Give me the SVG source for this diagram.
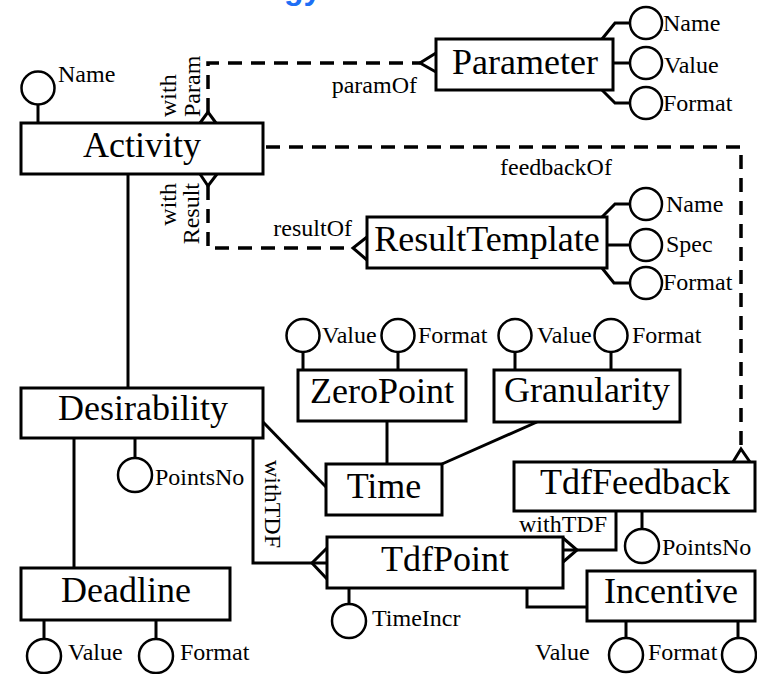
<svg xmlns="http://www.w3.org/2000/svg" width="757" height="674" viewBox="0 0 757 674">
<style>
.box{fill:#fff;stroke:#000;stroke-width:3}
.ln{fill:none;stroke:#000;stroke-width:3}
.dash{fill:none;stroke:#000;stroke-width:3.5;stroke-dasharray:14 9}
.at{fill:#fff;stroke:#000;stroke-width:2.5}
.en{font-family:"Liberation Serif","Times New Roman",serif;font-size:36px;text-anchor:middle;fill:#000}
.lb{font-family:"Liberation Serif","Times New Roman",serif;font-size:24px;fill:#000}
.end{text-anchor:end}
</style>
<rect width="757" height="674" fill="#fff"/>
<text x="284" y="-1" style="font-family:'Liberation Sans',Arial,sans-serif;font-size:32px;font-weight:bold;fill:#1e6ff5">gy</text>

<g id="connectors">
  <path class="ln" d="M128,174 V388"/>
  <path class="ln" d="M74,438 V568"/>
  <path class="ln" d="M263,422 L327,488"/>
  <path class="ln" d="M387,421 V464"/>
  <path class="ln" d="M537,422 L442,464"/>
  <path class="ln" d="M253,438 V563 H327"/>
  <path class="ln" d="M327,548 L312,563 L327,579"/>
  <path class="ln" d="M616,511 V550 H563"/>
  <path class="ln" d="M563,538 L577,550 L563,562"/>
  <path class="ln" d="M527,588 V607 H587"/>
  <path class="dash" d="M208,112 V63 H420"/>
  <path class="ln" d="M200,123 L208,112 L216,123"/>
  <path class="ln" d="M436,53 L420,63 L436,72"/>
  <path class="dash" d="M208,186 V248 H353"/>
  <path class="ln" d="M200,174 L208,186 L217,174"/>
  <path class="ln" d="M367,237 L353,248 L367,260"/>
  <path class="dash" d="M266,147 H741 V450"/>
  <path class="ln" d="M733,462 L741,449 L750,462"/>
  <text class="lb end" x="417" y="93">paramOf</text>
  <text class="lb end" x="352" y="236">resultOf</text>
  <text class="lb" x="500" y="175">feedbackOf</text>
  <text class="lb end" x="607" y="532">withTDF</text>
  <text class="lb" transform="translate(176,117) rotate(-90)">with</text>
  <text class="lb" transform="translate(200,117) rotate(-90)">Param</text>
  <text class="lb end" transform="translate(176,183) rotate(-90)">with</text>
  <text class="lb end" transform="translate(199,183) rotate(-90)">Result</text>
  <text class="lb" transform="translate(265,460) rotate(90)">withTDF</text>
</g>

<g id="activity">
  <path class="ln" d="M38,105 V123"/>
  <circle class="at" cx="38" cy="88" r="16.5"/>
  <text class="lb" x="58" y="82">Name</text>
  <rect class="box" x="21" y="123" width="242" height="51"/>
  <text class="en" x="142" y="157">Activity</text>
</g>

<g id="parameter">
  <path class="ln" d="M602,39 L615,23 L630,23 M613,63 H630 M602,90 L615,103 L630,103"/>
  <circle class="at" cx="646" cy="23" r="16"/>
  <circle class="at" cx="646" cy="63" r="16"/>
  <circle class="at" cx="646" cy="103" r="16"/>
  <text class="lb" x="663" y="31">Name</text>
  <text class="lb" x="664" y="73">Value</text>
  <text class="lb" x="663" y="111">Format</text>
  <rect class="box" x="436" y="39" width="177" height="51"/>
  <text class="en" x="525" y="74">Parameter</text>
</g>

<g id="resulttemplate">
  <path class="ln" d="M602,217 L615,204 L630,204 M607,245 H630 M602,268 L614,283 L630,283"/>
  <circle class="at" cx="646" cy="204" r="16"/>
  <circle class="at" cx="646" cy="245" r="16"/>
  <circle class="at" cx="646" cy="283" r="16"/>
  <text class="lb" x="666" y="212">Name</text>
  <text class="lb" x="666" y="252">Spec</text>
  <text class="lb" x="663" y="290">Format</text>
  <rect class="box" x="367" y="217" width="240" height="51"/>
  <text class="en" x="487" y="251">ResultTemplate</text>
</g>

<g id="desirability">
  <path class="ln" d="M135,438 V458"/>
  <circle class="at" cx="135" cy="475" r="17"/>
  <text class="lb" x="155" y="485">PointsNo</text>
  <rect class="box" x="21" y="388" width="242" height="50"/>
  <text class="en" x="143" y="420">Desirability</text>
</g>

<g id="deadline">
  <path class="ln" d="M44,620 V639 M156,620 V639"/>
  <circle class="at" cx="44" cy="656" r="17"/>
  <circle class="at" cx="156" cy="656" r="17"/>
  <text class="lb" x="68" y="660">Value</text>
  <text class="lb" x="180" y="660">Format</text>
  <rect class="box" x="21" y="568" width="209" height="52"/>
  <text class="en" x="126" y="602">Deadline</text>
</g>

<g id="zeropoint">
  <path class="ln" d="M303,370 V352 M398,370 V352"/>
  <circle class="at" cx="303" cy="335.5" r="16.5"/>
  <circle class="at" cx="398" cy="335.5" r="16.5"/>
  <text class="lb" x="322" y="343">Value</text>
  <text class="lb" x="418" y="343">Format</text>
  <rect class="box" x="298" y="370" width="168" height="51"/>
  <text class="en" x="382" y="403">ZeroPoint</text>
</g>

<g id="granularity">
  <path class="ln" d="M515,370 V352 M611,370 V352"/>
  <circle class="at" cx="515" cy="335.5" r="16.5"/>
  <circle class="at" cx="611" cy="335.5" r="16.5"/>
  <text class="lb" x="537" y="343">Value</text>
  <text class="lb" x="632" y="343">Format</text>
  <rect class="box" x="494" y="370" width="186" height="52"/>
  <text class="en" x="587" y="402">Granularity</text>
</g>

<g id="time">
  <rect class="box" x="326" y="464" width="116" height="51"/>
  <text class="en" x="384" y="498">Time</text>
</g>

<g id="tdffeedback">
  <path class="ln" d="M642,511 V529"/>
  <circle class="at" cx="642" cy="546" r="17"/>
  <text class="lb" x="662" y="555">PointsNo</text>
  <rect class="box" x="514" y="462" width="241" height="49"/>
  <text class="en" x="635" y="494">TdfFeedback</text>
</g>

<g id="tdfpoint">
  <path class="ln" d="M349,588 V604"/>
  <circle class="at" cx="349" cy="621" r="17"/>
  <text class="lb" x="372" y="626">TimeIncr</text>
  <rect class="box" x="327" y="537" width="236" height="51"/>
  <text class="en" x="445" y="571">TdfPoint</text>
</g>

<g id="incentive">
  <path class="ln" d="M626,621 V638 M738,621 V638"/>
  <circle class="at" cx="626" cy="655" r="17"/>
  <circle class="at" cx="739" cy="655" r="17"/>
  <text class="lb" x="535" y="660">Value</text>
  <text class="lb" x="648" y="660">Format</text>
  <rect class="box" x="587" y="571" width="168" height="50"/>
  <text class="en" x="671" y="603">Incentive</text>
</g>
</svg>
